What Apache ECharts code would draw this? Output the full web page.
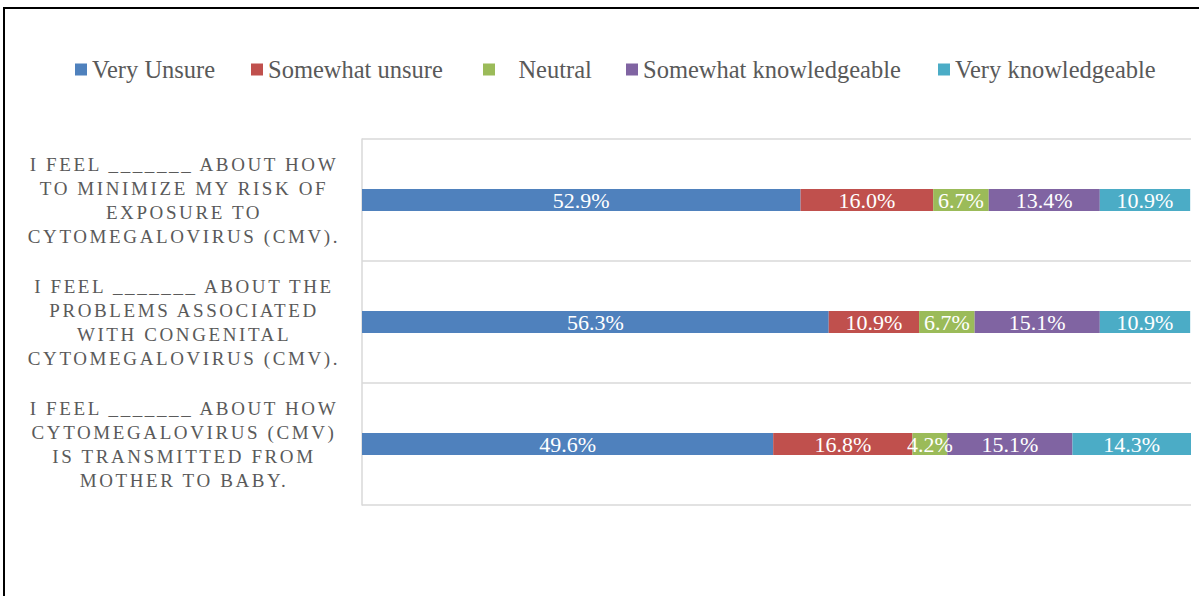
<!DOCTYPE html>
<html>
<head>
<meta charset="utf-8">
<script src="https://cdn.jsdelivr.net/npm/echarts@6/dist/echarts.min.js"></script>
<style>
html, body { margin: 0; padding: 0; background: #ffffff; }
#chart { width: 1199px; height: 596px; }
#chart svg text[fill="#5a5a5a"] { letter-spacing: 2.6px; }
</style>
</head>
<body>
<div id="chart"></div>
<script>
var categories = [
  "I FEEL _______ ABOUT HOW\nTO MINIMIZE MY RISK OF\nEXPOSURE TO\nCYTOMEGALOVIRUS (CMV).",
  "I FEEL _______ ABOUT THE\nPROBLEMS ASSOCIATED\nWITH CONGENITAL\nCYTOMEGALOVIRUS (CMV).",
  "I FEEL _______ ABOUT HOW\nCYTOMEGALOVIRUS (CMV)\nIS TRANSMITTED FROM\nMOTHER TO BABY."
];
var seriesNames = ["Very Unsure", "Somewhat unsure", "Neutral", "Somewhat knowledgeable", "Very knowledgeable"];
var veryUnsure = [52.9, 56.3, 49.6];
var somewhatUnsure = [16.0, 10.9, 16.8];
var neutral = [6.7, 6.7, 4.2];
var somewhatKnowledgeable = [13.4, 15.1, 15.1];
var veryKnowledgeable = [10.9, 10.9, 14.3];

var seriesValues = [veryUnsure, somewhatUnsure, neutral, somewhatKnowledgeable, veryKnowledgeable];
var colors = ["#4F81BD", "#C0504D", "#9BBB59", "#8064A2", "#4BACC6"];
var legendLefts = [75, 251, 483, 626, 938];

var serif = "'Liberation Serif', 'DejaVu Serif', serif";

var chart = echarts.init(document.getElementById('chart'), null, { renderer: 'svg' });

var legends = seriesNames.map(function (name, i) {
  return {
    data: [name],
    left: legendLefts[i],
    top: 57,
    padding: 0,
    itemWidth: 12,
    itemHeight: 12,
    icon: 'rect',
    formatter: name === 'Neutral' ? '   {name}' : '{name}',
    textStyle: { color: '#595959', fontFamily: serif, fontSize: 24.5 }
  };
});

var series = seriesNames.map(function (name, i) {
  return {
    name: name,
    type: 'bar',
    stack: 'total',
    barWidth: 22,
    data: seriesValues[i],
    itemStyle: { color: colors[i] },
    label: {
      show: true,
      position: 'inside',
      color: '#ffffff',
      fontFamily: serif,
      fontSize: 22,
      formatter: function (p) { return p.value.toFixed(1) + '%'; }
    }
  };
});

chart.setOption({
  animation: false,
  color: colors,
  legend: legends,
  grid: { left: 362, right: 8, top: 139, bottom: 91, containLabel: false },
  xAxis: {
    type: 'value',
    min: 0,
    max: 100,
    show: false
  },
  yAxis: {
    type: 'category',
    inverse: true,
    data: categories,
    axisLine: { show: true, lineStyle: { color: '#d9d9d9', width: 1.5 } },
    axisTick: { show: false },
    splitLine: { show: true, lineStyle: { color: '#d9d9d9', width: 1.5 } },
    axisLabel: {
      color: '#5a5a5a',
      fontFamily: serif,
      fontSize: 19,
      lineHeight: 24,
      align: 'center',
      margin: 178
    }
  },
  graphic: [{
    type: 'rect',
    silent: true,
    shape: { x: 4, y: 8, width: 1300, height: 700 },
    style: { fill: 'none', stroke: '#000000', lineWidth: 2 }
  }],
  series: series
});
</script>
</body>
</html>
